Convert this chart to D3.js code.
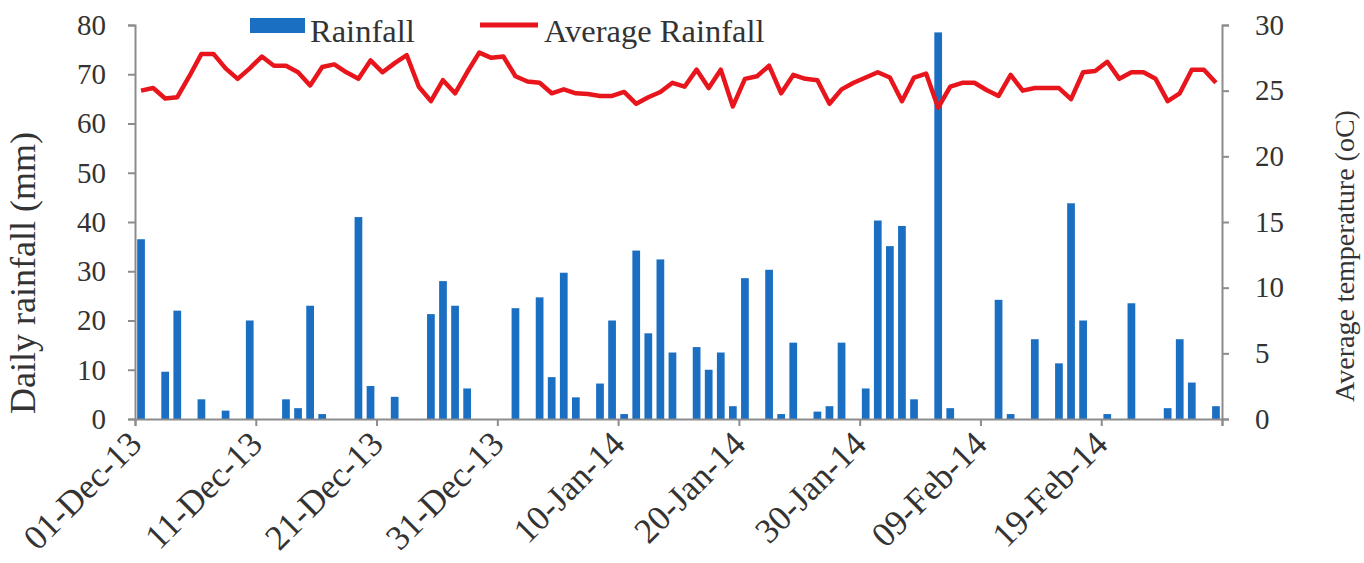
<!DOCTYPE html>
<html>
<head>
<meta charset="utf-8">
<script src="https://cdn.jsdelivr.net/npm/d3@7"></script>
<style>
  body { margin: 0; background: #fff; }
</style>
</head>
<body>
<div id="chart"></div>
<script>
// 01-Dec-13 .. 28-Feb-14, one entry per day
var days = d3.timeDay.range(new Date(2013, 11, 1), new Date(2014, 2, 1));

// daily rainfall (mm)
var rainfall = [
  36.5, 0, 9.6, 22, 0, 4, 0, 1.7, 0, 20,
  0, 0, 4, 2.2, 23, 1, 0, 0, 41, 6.7,
  0, 4.5, 0, 0, 21.3, 28, 23, 6.2, 0, 0,
  0, 22.5, 0, 24.7, 8.5, 29.7, 4.4, 0, 7.2, 20,
  1, 34.2, 17.4, 32.4, 13.5, 0, 14.6, 10, 13.5, 2.6,
  28.6, 0, 30.3, 1, 15.5, 0, 1.5, 2.6, 15.5, 0,
  6.2, 40.3, 35.1, 39.2, 4, 0, 78.5, 2.2, 0, 0,
  0, 24.2, 1, 0, 16.2, 0, 11.3, 43.8, 20, 0,
  1, 0, 23.5, 0, 0, 2.2, 16.2, 7.4, 0, 2.6
];

// average temperature (oC), right axis
var temperature = [
  25.0, 25.2, 24.4, 24.5, 26.1, 27.8, 27.8, 26.7, 25.9, 26.7,
  27.6, 26.9, 26.9, 26.4, 25.4, 26.8, 27.0, 26.4, 25.9, 27.3,
  26.4, 27.1, 27.7, 25.3, 24.2, 25.8, 24.8, 26.4, 27.9, 27.5,
  27.6, 26.1, 25.7, 25.6, 24.8, 25.1, 24.8, 24.75, 24.6, 24.6,
  24.9, 24.0, 24.5, 24.9, 25.6, 25.3, 26.6, 25.2, 26.6, 23.8,
  25.9, 26.1, 26.9, 24.8, 26.2, 25.9, 25.8, 24.0, 25.1, 25.6,
  26.0, 26.4, 26.0, 24.2, 26.0, 26.3, 23.7, 25.3, 25.6, 25.6,
  25.05, 24.6, 26.2, 25.0, 25.2, 25.2, 25.2, 24.35, 26.4, 26.5,
  27.2, 25.9, 26.4, 26.4, 25.9, 24.2, 24.8, 26.6, 26.6, 25.6
];

var leftTicks = [0, 10, 20, 30, 40, 50, 60, 70, 80];
var rightTicks = [0, 5, 10, 15, 20, 25, 30];
var labelEvery = 10;

var width = 1364, height = 563;
var plotL = 135, plotR = 1222, plotT = 25, plotB = 419;
var serif = "Liberation Serif";
var textColor = "#333";

var svg = d3.select("#chart").append("svg")
    .attr("width", width)
    .attr("height", height)
    .attr("font-family", serif);

var x = d3.scaleBand()
    .domain(d3.range(days.length))
    .range([plotL, plotR])
    .paddingInner(0.36)
    .paddingOuter(0.18);

// linear copy of the band scale, for tick marks on category boundaries
var xTick = d3.scaleLinear().domain([0, days.length]).range([plotL, plotR]);

var yRain = d3.scaleLinear().domain([0, 80]).range([plotB, plotT]);
var yTemp = d3.scaleLinear().domain([0, 30]).range([plotB, plotT]);

var fmt = d3.timeFormat("%d-%b-%y");

// bars
svg.append("g").selectAll("rect")
    .data(rainfall)
    .join("rect")
    .attr("x", function(d, i) { return x(i); })
    .attr("width", x.bandwidth())
    .attr("y", function(d) { return yRain(d); })
    .attr("height", function(d) { return plotB - yRain(d); })
    .attr("fill", "#1b6fc2");

// temperature line
var line = d3.line()
    .x(function(d, i) { return x(i) + x.bandwidth() / 2; })
    .y(function(d) { return yTemp(d); });

svg.append("path")
    .datum(temperature)
    .attr("d", line)
    .attr("fill", "none")
    .attr("stroke", "#e8161c")
    .attr("stroke-width", 4.5)
    .attr("stroke-linejoin", "round");

// axes
var axisColor = "#8c8c8c";

var gx = svg.append("g")
    .attr("transform", "translate(0," + plotB + ")")
    .call(d3.axisBottom(xTick)
      .tickValues(d3.range(0, days.length + 1, labelEvery))
      .tickSize(7)
      .tickFormat(function(i) { return i < days.length ? fmt(days[i]) : ""; }));

gx.selectAll("text")
    .attr("text-anchor", "end")
    .attr("dy", 0)
    .attr("y", 0)
    .attr("transform", "translate(8,27) rotate(-45)")
    .attr("font-size", 35);

var gl = svg.append("g")
    .attr("transform", "translate(" + plotL + ",0)")
    .call(d3.axisLeft(yRain).tickValues(leftTicks).tickSize(7).tickPadding(22));
gl.selectAll("text").attr("font-size", 29);

var gr = svg.append("g")
    .attr("transform", "translate(" + plotR + ",0)")
    .call(d3.axisRight(yTemp).tickValues(rightTicks).tickSize(7).tickPadding(26));
gr.selectAll("text").attr("font-size", 29);

// d3 puts sans-serif on each axis group, put the serif face back
[gx, gl, gr].forEach(function(g) { g.attr("font-family", serif); });
svg.selectAll(".domain, .tick line").attr("stroke", axisColor).attr("stroke-width", 2);
svg.selectAll(".tick text").attr("fill", textColor).attr("font-family", serif);

// axis titles
svg.append("text")
    .attr("transform", "translate(35,273) rotate(-90)")
    .attr("text-anchor", "middle")
    .attr("font-size", 36)
    .attr("fill", textColor)
    .text("Daily rainfall (mm)");

svg.append("text")
    .attr("transform", "translate(1354,256) rotate(-90)")
    .attr("text-anchor", "middle")
    .attr("font-size", 28)
    .attr("fill", textColor)
    .text("Average temperature (oC)");

// legend
var legend = svg.append("g").attr("fill", textColor);
legend.append("rect")
    .attr("x", 250).attr("y", 18)
    .attr("width", 55).attr("height", 15)
    .attr("fill", "#1b6fc2");
legend.append("text")
    .attr("x", 310).attr("y", 42)
    .attr("font-size", 32.5)
    .text("Rainfall");
legend.append("line")
    .attr("x1", 480).attr("x2", 538)
    .attr("y1", 25).attr("y2", 25)
    .attr("stroke", "#e8161c")
    .attr("stroke-width", 5);
legend.append("text")
    .attr("x", 544).attr("y", 42)
    .attr("font-size", 32.5)
    .text("Average Rainfall");
</script>
</body>
</html>
